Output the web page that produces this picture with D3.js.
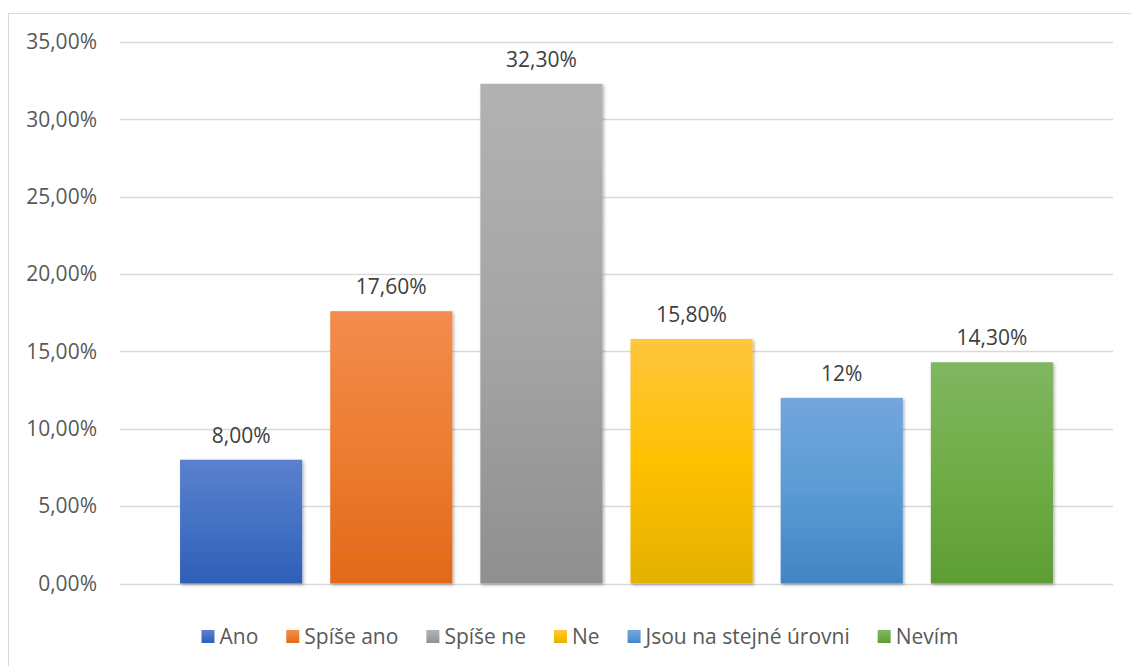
<!DOCTYPE html>
<html>
<head>
<meta charset="utf-8">
<script src="https://cdn.jsdelivr.net/npm/d3@7"></script>
<style>
  html, body { margin: 0; padding: 0; background: #fff; }
  svg { display: block; font-family: "Open Sans", "Noto Sans", sans-serif; }
</style>
</head>
<body>
<svg id="chart" width="1131" height="666"></svg>
<script>
// ---- data ----
const categories = ["Ano", "Spíše ano", "Spíše ne", "Ne", "Jsou na stejné úrovni", "Nevím"];
const values = [8.0, 17.6, 32.3, 15.8, 12, 14.3];
const valueLabels = ["8,00%", "17,60%", "32,30%", "15,80%", "12%", "14,30%"];
const yTicks = [0, 5, 10, 15, 20, 25, 30, 35];
const yTickLabels = ["0,00%", "5,00%", "10,00%", "15,00%", "20,00%", "25,00%", "30,00%", "35,00%"];
// gradient colours: top, middle, bottom
const colorTop = ["#5b80cd", "#f28c4e", "#b2b2b2", "#ffc53d", "#72a6dc", "#80b661"];
const colorMid = ["#4472c4", "#ed7d31", "#a5a5a5", "#ffc000", "#5b9bd5", "#70ad47"];
const colorBot = ["#2e5eb8", "#e2691a", "#8f8f8f", "#e3b100", "#4285c5", "#5e9d33"];

// ---- layout ----
const W = 1131, H = 666;
const plot = { left: 120, right: 1113, top: 42, bottom: 583.5 };

const svg = d3.select("#chart");

const defs = svg.append("defs");
const shadow = defs.append("filter").attr("id", "shadow")
  .attr("x", "-10%").attr("y", "-10%").attr("width", "130%").attr("height", "130%");
shadow.append("feDropShadow").attr("dx", 1.5).attr("dy", 1.5)
  .attr("stdDeviation", 1.6).attr("flood-color", "#000").attr("flood-opacity", 0.3);

categories.forEach((c, i) => {
  const g = defs.append("linearGradient").attr("id", "grad" + i)
    .attr("x1", 0).attr("y1", 0).attr("x2", 0).attr("y2", 1);
  g.append("stop").attr("offset", "0%").attr("stop-color", colorTop[i]);
  g.append("stop").attr("offset", "50%").attr("stop-color", colorMid[i]);
  g.append("stop").attr("offset", "100%").attr("stop-color", colorBot[i]);
});

// chart border
svg.append("rect")
  .attr("x", 8.5).attr("y", 13.5).attr("width", 1200).attr("height", 700)
  .attr("fill", "#fff").attr("stroke", "#d9d9d9").attr("stroke-width", 1);

const y = d3.scaleLinear().domain([0, 35]).range([plot.bottom, plot.top]);
const x = d3.scaleBand().domain(categories)
  .range([plot.left, plot.right])
  .paddingInner(28 / 150).paddingOuter(0.4);

// gridlines
svg.append("g").selectAll("line").data(yTicks).join("line")
  .attr("x1", plot.left).attr("x2", plot.right)
  .attr("y1", d => Math.round(y(d)) + 0.5).attr("y2", d => Math.round(y(d)) + 0.5)
  .attr("stroke", "#d9d9d9").attr("stroke-width", 1.3);

// y axis labels via d3 axis
const yAxis = d3.axisLeft(y).tickValues(yTicks)
  .tickFormat((d, i) => yTickLabels[i]).tickSize(0).tickPadding(0);
const ag = svg.append("g").attr("transform", `translate(97,0)`).call(yAxis);
ag.select(".domain").remove();
ag.selectAll("text")
  .attr("fill", "#595959").style("font-size", "21px")
  .style("font-family", "'Open Sans', sans-serif");

// bars
svg.append("g").selectAll("rect").data(values).join("rect")
  .attr("x", (d, i) => x(categories[i]))
  .attr("y", d => y(d))
  .attr("width", x.bandwidth())
  .attr("height", d => y(0) - y(d))
  .attr("fill", (d, i) => `url(#grad${i})`)
  .attr("filter", "url(#shadow)");

// data labels
svg.append("g").selectAll("text").data(values).join("text")
  .attr("x", (d, i) => x(categories[i]) + x.bandwidth() / 2)
  .attr("y", d => y(d) - 17)
  .attr("text-anchor", "middle")
  .attr("fill", "#404040").style("font-size", "21px")
  .text((d, i) => valueLabels[i]);

// legend
const legend = svg.append("g");
const items = legend.selectAll("g").data(categories).join("g");
items.append("rect").attr("width", 13).attr("height", 13)
  .attr("fill", (d, i) => `url(#grad${i})`);
items.append("text").attr("x", 18).attr("y", 6.5).attr("dy", "0.36em")
  .attr("fill", "#595959").style("font-size", "21px")
  .text(d => d);
let cx = 0;
const offsets = [];
items.each(function () {
  const w = this.querySelector("text").getComputedTextLength();
  offsets.push(cx);
  cx += 18 + w + 28;
});
const total = cx - 28;
const startX = 580 - total / 2;
items.attr("transform", (d, i) => `translate(${startX + offsets[i]},${630})`);
</script>
</body>
</html>
